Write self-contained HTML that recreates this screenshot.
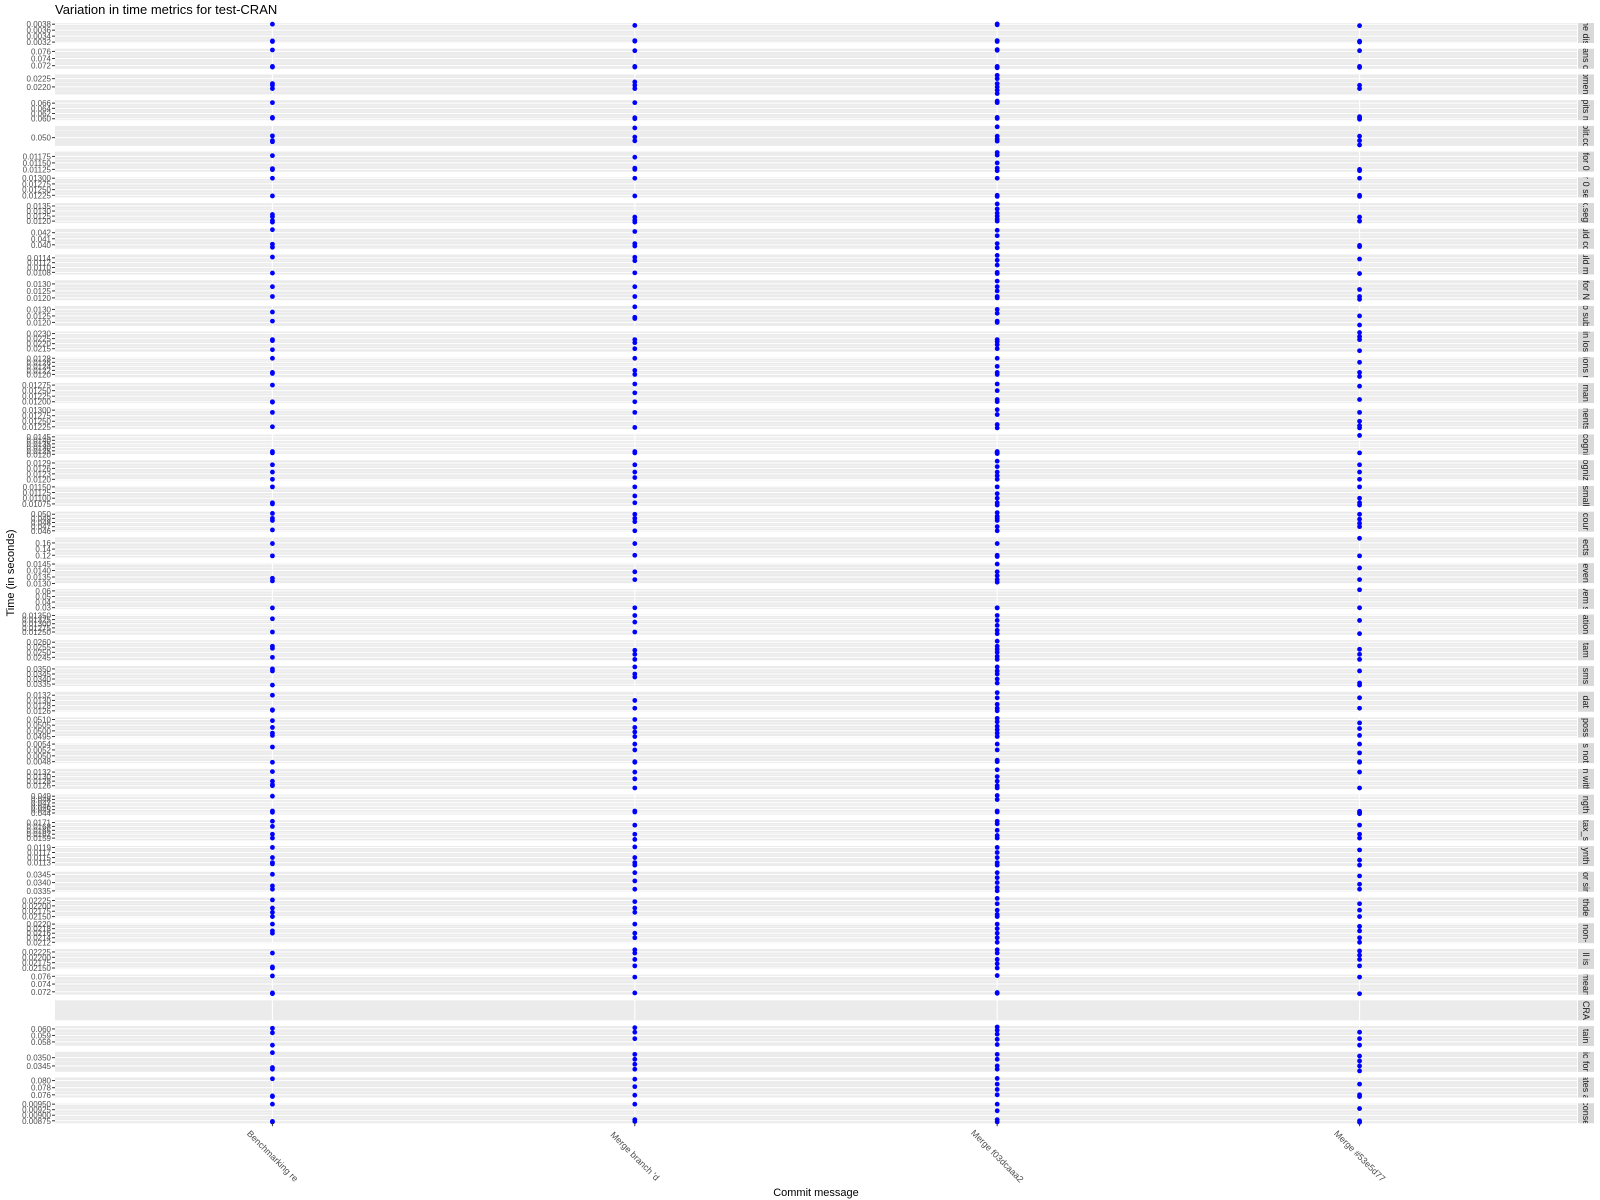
<!DOCTYPE html>
<html><head><meta charset="utf-8">
<style>
html,body{margin:0;padding:0;background:#fff;}
svg{display:block;font-family:"Liberation Sans",sans-serif;}
</style></head>
<body>
<svg id="chart" width="1600" height="1200" viewBox="0 0 1600 1200">
<text x="55" y="14" font-size="13" fill="#000">Variation in time metrics for test-CRAN</text>
<text x="816" y="1196" font-size="11" text-anchor="middle" fill="#000">Commit message</text>
<text transform="translate(14,573) rotate(-90)" font-size="11" text-anchor="middle" fill="#000">Time (in seconds)</text>
<g id="panels"></g>
</svg>
<script>
const commits = ["Benchmarking re","Merge branch 'd","Merge f03dcaaa2","Merge #53e5d77"];
const strips = ["ne dis","ans c","pment","pits n","plit.co","for 0","r 0 se","x.segr","uld co","uld mi","for N","o sub","in los","ions r","man","nents","cogni","ogniz","small","cour","ects","even","vem s","ation","tam","sms","dat","poss","s not","m with","ngth","tax_s","ynth","for sin","thde","non-","ll is","mean","CRA","tain","ic for","ates a","conse"];
const tickLabels = [
["0.0032","0.0034","0.0036","0.0038"],["0.072","0.074","0.076"],["0.0215","0.0220","0.0225"],["0.060","0.062","0.064","0.066"],
["0.050","0.055"],["0.01125","0.01150","0.01175"],["0.01225","0.01250","0.01275","0.01300"],["0.0120","0.0125","0.0130","0.0135"],
["0.039","0.040","0.041","0.042"],["0.0108","0.0110","0.0112","0.0114"],["0.0120","0.0125","0.0130"],["0.0120","0.0125","0.0130"],
["0.0215","0.0220","0.0225","0.0230"],["0.0120","0.0122","0.0124","0.0126","0.0128"],["0.01200","0.01225","0.01250","0.01275"],["0.01225","0.01250","0.01275","0.01300"],
["0.0120","0.0125","0.0130","0.0135","0.0140","0.0145"],["0.0120","0.0123","0.0126","0.0129"],["0.01075","0.01100","0.01125","0.01150"],["0.046","0.047","0.048","0.049","0.050"],
["0.12","0.14","0.16","0.18"],["0.0130","0.0135","0.0140","0.0145"],["0.03","0.04","0.05","0.06"],["0.01250","0.01275","0.01300","0.01325","0.01350"],
["0.0245","0.0250","0.0255","0.0260"],["0.0335","0.0340","0.0345","0.0350"],["0.0126","0.0128","0.0130","0.0132"],["0.0495","0.0500","0.0505","0.0510"],
["0.0048","0.0050","0.0052","0.0054"],["0.0126","0.0128","0.0130","0.0132"],["0.044","0.045","0.046","0.047","0.048","0.049"],["0.0159","0.0162","0.0165","0.0168","0.0171"],
["0.0113","0.0115","0.0117","0.0119"],["0.0335","0.0340","0.0345"],["0.02150","0.02175","0.02200","0.02225"],["0.0212","0.0214","0.0216","0.0218","0.0220"],
["0.02150","0.02175","0.02200","0.02225"],["0.072","0.074","0.076"],[],["0.057","0.058","0.059","0.060"],
["0.0345","0.0350"],["0.076","0.078","0.080"],["0.00875","0.00900","0.00925","0.00950"]
];
const seriesBench = [
[0.0038,0.00324,0.00322],[0.0764,0.0718,0.0716],[0.0222,0.0221,0.0219],[0.0662,0.0605,0.0602],[0.0506,0.049,0.0486],[0.01178,0.01128,0.01124],[0.013,0.01222],[0.01265,0.01245,0.01205,0.0119],[0.0425,0.0401,0.0396],[0.01143,0.01077],
[0.0128,0.0121],[0.0128,0.0121],[0.0224,0.0223,0.0214],[0.0128,0.0121,0.01205],[0.01275,0.012,0.01198],[0.0129,0.01225],[0.0124,0.0122],[0.0128,0.0124,0.012],[0.0115,0.0108,0.01075],[0.0502,0.049,0.0485,0.0462],
[0.158,0.118],[0.0134,0.0132],[0.0295],[0.0133,0.0125],[0.0256,0.0254,0.0245],[0.035,0.0348,0.0334],[0.0132,0.01264,0.01262],[0.0509,0.0503,0.0498,0.0496],[0.0053,0.00478],[0.01322,0.0128,0.01265,0.0126],
[0.049,0.0446,0.0442],[0.0172,0.0168,0.0162,0.0159],[0.0119,0.0115,0.0113,0.01125],[0.0345,0.0338,0.0336],[0.02228,0.0219,0.0217,0.0215],[0.022,0.0217,0.0216],[0.0222,0.02155,0.0215],[0.0761,0.0717,0.0715],[],[0.0601,0.0594,0.0575],
[0.0353,0.0344,0.0343],[0.0805,0.0757,0.0755],[0.0095,0.00872,0.0087]
];
const seriesMergeD = [
[0.00376,0.00325,0.00323],[0.0762,0.0718,0.0716],[0.0223,0.0221,0.0219],[0.0662,0.0604,0.06],[0.0533,0.0502,0.0489],[0.01172,0.0113,0.01125],[0.013,0.01222],[0.0124,0.0121,0.0119],[0.0422,0.0402,0.0398],[0.01142,0.01128,0.01078],
[0.0128,0.0121],[0.0132,0.0124,0.0123],[0.0224,0.0221,0.0215],[0.0128,0.0122,0.012],[0.0128,0.0124,0.012],[0.0129,0.01222],[0.0124,0.0122],[0.0128,0.0124,0.0121],[0.0115,0.0111,0.0108],[0.05,0.049,0.0482,0.046],
[0.158,0.12],[0.0139,0.0133],[0.0298],[0.0135,0.0131,0.0125],[0.0252,0.0248,0.0243],[0.0352,0.0345,0.0342],[0.013,0.0127],[0.051,0.0503,0.0499,0.0495],[0.0054,0.0052,0.0048,0.00478],[0.0132,0.0129,0.0125],
[0.0446,0.0443],[0.0169,0.0162,0.0158],[0.01192,0.0115,0.0113,0.0112],[0.0346,0.0341,0.0336],[0.0222,0.0219,0.0217],[0.022,0.0216,0.0214],[0.02235,0.0222,0.0219,0.0216],[0.0758,0.0717],[],[0.0602,0.0595,0.0585],
[0.0352,0.0349,0.0346,0.0343],[0.0804,0.0783,0.0759],[0.0095,0.0088,0.00872]
];
const seriesMergeF = [
[0.00381,0.00378,0.00325,0.00322],[0.0765,0.0763,0.0718,0.0716,0.0714],[0.0227,0.0225,0.0222,0.022,0.0218,0.0216],[0.0668,0.0662,0.0605,0.0601],[0.0537,0.0505,0.0495,0.0488],[0.0119,0.0118,0.0115,0.0113,0.0112],[0.013,0.01225,0.0122],[0.0137,0.0132,0.0128,0.0125,0.0122,0.012],[0.0424,0.0415,0.0402,0.0395],[0.0115,0.0113,0.0111,0.0108,0.01075],
[0.0132,0.0128,0.0125,0.0121,0.012],[0.013,0.0127,0.0121,0.012],[0.0224,0.0222,0.0219,0.0215],[0.0128,0.0124,0.0121,0.012],[0.0128,0.0125,0.0121,0.012],[0.01302,0.0128,0.01235,0.0122],[0.0124,0.0123,0.0122,0.0121],[0.013,0.0127,0.0124,0.0122,0.012],[0.0115,0.0112,0.011,0.0108,0.0107],[0.0504,0.0495,0.049,0.0485,0.047,0.046],
[0.158,0.12,0.116],[0.0145,0.0139,0.0136,0.0133,0.0131],[0.0298,0.0295],[0.0135,0.0132,0.0129,0.0126,0.0124],[0.0261,0.0256,0.0253,0.025,0.0246,0.0243],[0.0352,0.0348,0.0345,0.034,0.0336],[0.0133,0.0131,0.01285,0.0127,0.0126],[0.0511,0.0508,0.0504,0.0501,0.0498,0.0495],[0.0054,0.0052,0.00485,0.0048],[0.0133,0.013,0.0128,0.0126,0.0125],
[0.0492,0.048,0.0446,0.0443],[0.0172,0.017,0.0165,0.0161,0.0159],[0.0119,0.0117,0.0115,0.0113,0.0112],[0.0346,0.0343,0.034,0.0337,0.0335],[0.02235,0.0221,0.0218,0.0216,0.0215],[0.022,0.0218,0.0216,0.0214,0.0212],[0.02235,0.0222,0.0219,0.0217,0.0215],[0.0762,0.0718,0.0716],[],[0.0603,0.0598,0.0592,0.0584,0.0576],
[0.0352,0.0349,0.0345,0.0343],[0.0806,0.079,0.0775,0.076],[0.0095,0.0092,0.0088,0.0087]
];
const seriesMerge5 = [
[0.00375,0.00323,0.0032],[0.0762,0.0718,0.0715],[0.0221,0.0219],[0.0608,0.0603,0.0598],[0.0505,0.049,0.0475],[0.01125,0.0112],[0.013,0.01225,0.0122],[0.0124,0.012],[0.0399,0.0397],[0.01135,0.01075],
[0.0126,0.0121,0.0119],[0.0125,0.0118],[0.0231,0.0227,0.0224,0.0213],[0.0126,0.0121,0.0119],[0.0127,0.0121],[0.0129,0.0125,0.0123,0.0122],[0.0147,0.0122],[0.0128,0.0124,0.012],[0.0115,0.011,0.0108,0.0107],[0.05,0.0488,0.0478,0.047],
[0.175,0.118],[0.0142,0.0133],[0.062,0.0297],[0.0132,0.0124],[0.0253,0.0248,0.0243],[0.0348,0.0336,0.0334],[0.0131,0.0127],[0.0507,0.0502,0.0496],[0.0054,0.0051,0.0048,0.00478],[0.0132,0.0125],
[0.0445,0.0441,0.0438],[0.0169,0.0162,0.0159],[0.0118,0.0114,0.0112],[0.0344,0.0339,0.0336],[0.0221,0.0218,0.0215],[0.0219,0.0217,0.0214,0.0212],[0.0223,0.0221,0.0219,0.0216],[0.0758,0.0715],[],[0.0595,0.0585,0.0575],
[0.0351,0.0348,0.0345,0.0342],[0.079,0.076,0.0755],[0.0093,0.00875,0.00868]
];
const allSeries = [seriesBench, seriesMergeD, seriesMergeF, seriesMerge5];

const NS = "http://www.w3.org/2000/svg";
const root = document.getElementById('panels');
const X0 = 55, X1 = 1577, TOP = 23, PH = 20, STEP = 25.72;
function xScale(i){ return X0 + (X1 - X0) * (i + 0.6) / (commits.length + 0.2); }
function mk(tag, attrs){ const e = document.createElementNS(NS, tag); for (const k in attrs) e.setAttribute(k, attrs[k]); return e; }

const defs = mk('defs', {});
root.appendChild(defs);

strips.forEach((lab, p) => {
  const top = TOP + p * STEP;
  let vals = [];
  allSeries.forEach(s => vals = vals.concat(s[p]));
  let lo = Math.min(...vals), hi = Math.max(...vals);
  if (!vals.length) { lo = 0; hi = 1; }
  const pad = (hi - lo) * 0.05 || 0.0001;
  lo -= pad; hi += pad;
  const yScale = v => top + PH - (v - lo) / (hi - lo) * PH;

  const g = mk('g', {});
  
  
  root.appendChild(g);

  const cp = mk('clipPath', {id: 'cp' + p});
  cp.appendChild(mk('rect', {x: X0, y: top, width: X1 - X0, height: PH}));
  defs.appendChild(cp);

  const bg = mk('rect', {x: X0, y: top, width: X1 - X0, height: PH, fill: '#ebebeb'});
  
  
  g.appendChild(bg);

  const inner = mk('g', {'clip-path': 'url(#cp' + p + ')'});
  g.appendChild(inner);

  const ticks = tickLabels[p].map(Number);
  for (let k = 0; k < ticks.length - 1; k++) {
    const y = yScale((ticks[k] + ticks[k + 1]) / 2);
    inner.appendChild(mk('line', {x1: X0, x2: X1, y1: y, y2: y, stroke: '#f5f5f5', 'stroke-width': 0.6}));
  }
  ticks.forEach((t, k) => {
    const y = yScale(t);
    if (y < top - 0.5 || y > top + PH + 0.5) return;
    inner.appendChild(mk('line', {x1: X0, x2: X1, y1: y, y2: y, stroke: '#fff', 'stroke-width': 1}));
    g.appendChild(mk('line', {x1: X0 - 3, x2: X0, y1: y, y2: y, stroke: '#333', 'stroke-width': 1}));
    const tx = mk('text', {x: X0 - 4, y: y + 3, 'font-size': 8, 'text-anchor': 'end', fill: '#4d4d4d'});
    tx.textContent = tickLabels[p][k];
    
    
    g.appendChild(tx);
  });
  commits.forEach((c, i) => {
    const x = xScale(i);
    inner.appendChild(mk('line', {x1: x, x2: x, y1: top, y2: top + PH, stroke: '#fff', 'stroke-width': 1.1}));
  });
  allSeries.forEach((s, i) => {
    s[p].forEach(v => {
      const pt = mk('circle', {cx: xScale(i), cy: yScale(v), r: 2.4, fill: '#0000ff'});
      
      
      g.appendChild(pt);
    });
  });
  const st = mk('rect', {x: X1 + 1, y: top, width: 16, height: PH, fill: '#d9d9d9'});
  
  
  g.appendChild(st);
  const cps = mk('clipPath', {id: 'cs' + p});
  cps.appendChild(mk('rect', {x: X1 + 1, y: top, width: 16, height: PH}));
  defs.appendChild(cps);
  const sg = mk('g', {'clip-path': 'url(#cs' + p + ')'});
  g.appendChild(sg);
  const stx = mk('text', {transform: 'translate(' + (X1 + 6) + ',' + (top + PH / 2) + ') rotate(90)', 'font-size': 9, 'text-anchor': 'middle', fill: '#1a1a1a'});
  stx.textContent = lab;
  
  
  sg.appendChild(stx);
});

const bottom = TOP + (strips.length - 1) * STEP + PH;
commits.forEach((c, i) => {
  const x = xScale(i);
  root.appendChild(mk('line', {x1: x, x2: x, y1: bottom, y2: bottom + 3, stroke: '#333', 'stroke-width': 1}));
  const t = mk('text', {transform: 'translate(' + (x - 2) + ',' + (bottom + 35) + ') rotate(45)', 'font-size': 9, 'text-anchor': 'middle', fill: '#4d4d4d'});
  t.textContent = c;
  
  
  root.appendChild(t);
});
</script>
</body></html>
